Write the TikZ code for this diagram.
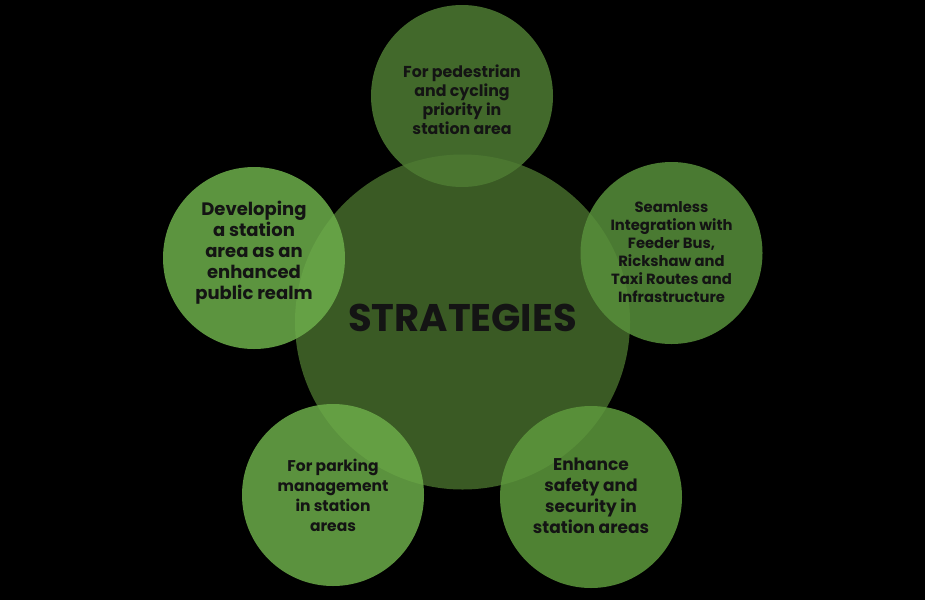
\documentclass[tikz,border=0pt]{standalone}
\usepackage{fontspec}
\setmainfont{Poppins}
\begin{document}
\begin{tikzpicture}[x=1pt,y=-1pt,
  bubble/.style={circle, inner sep=0pt, minimum size=182pt, fill opacity=0.85, text opacity=1, align=center, text=black!92},
  label/.style={align=center, text=black!92},
  hub/.style={circle, inner sep=0pt, minimum size=335pt, fill=hubg, align=center}]
\definecolor{hubg}{RGB}{58,90,36}
\definecolor{gtop}{RGB}{78,124,51}
\definecolor{gright}{RGB}{88,144,59}
\definecolor{gleft}{RGB}{109,174,75}
\definecolor{gbl}{RGB}{108,172,73}
\definecolor{gbr}{RGB}{94,153,61}
\fill[black] (0,0) rectangle (925,600);
\useasboundingbox (0,0) rectangle (925,600);
\node[hub] (hub) at (462.5,322) {};
\node[label, font=\fontsize{38.5}{42}\selectfont\bfseries] (title) at (462.5,318) {STRATEGIES};
\node[bubble, fill=gtop] (top) at (462,96) {};
\node[label, font=\fontsize{15.8}{19}\selectfont\bfseries] (toptext) at (462,100) {For pedestrian\\and cycling\\priority in\\station area};
\node[bubble, fill=gright] (right) at (671.5,253) {};
\node[label, font=\fontsize{14.8}{18}\selectfont\bfseries] (righttext) at (671.5,252) {Seamless\\Integration with\\Feeder Bus,\\Rickshaw and\\Taxi Routes and\\Infrastructure};
\node[bubble, fill=gleft] (left) at (254,258) {};
\node[label, font=\fontsize{18}{21}\selectfont\bfseries] (lefttext) at (254,253) {Developing\\a station\\area as an\\enhanced\\public realm};
\node[bubble, fill=gbl] (bl) at (333,495) {};
\node[label, font=\fontsize{15.5}{20}\selectfont\bfseries] (bltext) at (333,495) {For parking\\management\\in station\\areas};
\node[bubble, fill=gbr] (br) at (591,497) {};
\node[label, font=\fontsize{17}{21}\selectfont\bfseries] (brtext) at (591,496) {Enhance\\safety and\\security in\\station areas};
\end{tikzpicture}
\end{document}
